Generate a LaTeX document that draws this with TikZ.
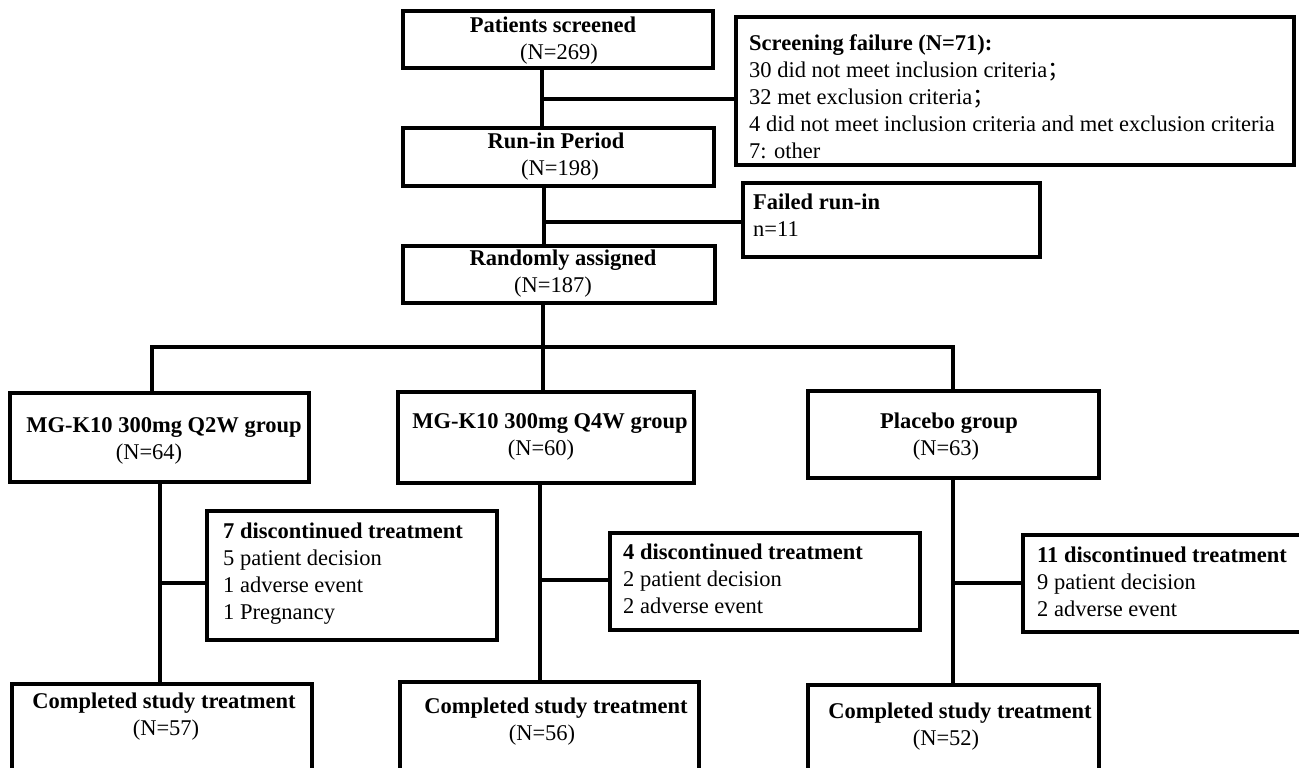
\documentclass[tikz,border=0pt]{standalone}
\usepackage{fontspec}
\setmainfont{Liberation Serif}
\newfontfamily\cjk{Noto Sans CJK SC}
\tikzset{
  box/.style={draw, line width=3.5pt, inner sep=0pt, outer sep=0pt},
  txt/.style={inner sep=0pt, align=center, font=\fontsize{22.5}{27}\selectfont},
  ltxt/.style={inner sep=0pt, align=left, anchor=west, font=\fontsize{22.5}{27}\selectfont},
  lnk/.style={line width=3.5pt}
}
\begin{document}
\begin{tikzpicture}[x=1pt,y=-1pt]
\useasboundingbox (0,0) rectangle (1299,768);
\clip (0,0) rectangle (1299,768);
\fill[white] (0,0) rectangle (1299,768);

% boxes
\node[box, minimum width=310pt, minimum height=57pt] (ps) at (558,39.5) {};
\node[box, minimum width=558pt, minimum height=148pt] (sf) at (1015,91) {};
\node[box, minimum width=311pt, minimum height=58pt] (ri) at (558.5,157) {};
\node[box, minimum width=297pt, minimum height=74pt] (fr) at (891.5,220) {};
\node[box, minimum width=312pt, minimum height=57pt] (ra) at (559,274.5) {};
\node[box, minimum width=299pt, minimum height=89pt] (q2w) at (159.5,437.5) {};
\node[box, minimum width=296pt, minimum height=91pt] (q4w) at (546,437.5) {};
\node[box, minimum width=291pt, minimum height=87pt] (pl) at (953.5,434.5) {};
\node[box, minimum width=290pt, minimum height=129pt] (d1) at (352,575.5) {};
\node[box, minimum width=310pt, minimum height=97pt] (d2) at (765,581.5) {};
\node[box, minimum width=307pt, minimum height=97pt] (d3) at (1176.5,583.5) {};
\node[box, minimum width=300pt, minimum height=116pt] (c1) at (162,742) {};
\node[box, minimum width=299pt, minimum height=118pt] (c2) at (549.5,741) {};
\node[box, minimum width=291pt, minimum height=115pt] (c3) at (953.5,742.5) {};

% texts
\node[txt] (pst) at (553,41) {\textbf{Patients screened}\\\kern12pt(N=269)};
\node[ltxt] (sft) at (749,97) {\textbf{Screening failure (N=71):}\\30 did not meet inclusion criteria{\cjk ；}\\32 met exclusion criteria{\cjk ；}\\4 did not meet inclusion criteria and met exclusion criteria\\7: other};
\node[txt] (rit) at (556,156.5) {\textbf{Run-in Period}\\\kern8pt(N=198)};
\node[ltxt] (frt) at (753,215.5) {\textbf{Failed run-in}\\n=11};
\node[txt] (rat) at (563,273.5) {\textbf{Randomly assigned}\\(N=187)\kern20pt};
\node[txt] (q2wt) at (164,440.5) {\textbf{MG-K10 300mg Q2W group}\\(N=64)\kern30pt};
\node[txt] (q4wt) at (550,436.5) {\textbf{MG-K10 300mg Q4W group}\\(N=60)\kern18pt};
\node[txt] (plt) at (949,436.5) {\textbf{Placebo group}\\(N=63)\kern6pt};
\node[ltxt] (d1t) at (223,573.5) {\textbf{7 discontinued treatment}\\5 patient decision\\1 adverse event\\1 Pregnancy};
\node[ltxt] (d2t) at (623,578.5) {\textbf{4 discontinued treatment}\\2 patient decision\\2 adverse event};
\node[ltxt] (d3t) at (1037,581.5) {\textbf{11 discontinued treatment}\\9 patient decision\\2 adverse event};
\node[txt] (c1t) at (164,716.5) {\textbf{Completed study treatment}\\\kern4pt(N=57)};
\node[txt] (c2t) at (556,721.5) {\textbf{Completed study treatment}\\(N=56)\kern28pt};
\node[txt] (c3t) at (960,726.5) {\textbf{Completed study treatment}\\(N=52)\kern28pt};

% connectors
\coordinate (j1) at (542,99);
\draw[lnk] (j1 |- ps.south) -- (j1 |- ri.north);
\draw[lnk] (j1) -- (j1 -| sf.west);
\coordinate (j2) at (544,222);
\draw[lnk] (j2 |- ri.south) -- (j2 |- ra.north);
\draw[lnk] (j2) -- (j2 -| fr.west);
\coordinate (j3) at (543,347);
\coordinate (bL) at (152,347);
\coordinate (bR) at (953,347);
\draw[lnk] (j3 |- ra.south) -- (j3 |- q4w.north);
\draw[lnk] (bL |- q2w.north) -- (bL) -- (bR) -- (bR |- pl.north);
\coordinate (j4) at (160,583);
\draw[lnk] (j4 |- q2w.south) -- (j4 |- c1.north);
\draw[lnk] (j4) -- (j4 -| d1.west);
\coordinate (j5) at (540,580);
\draw[lnk] (j5 |- q4w.south) -- (j5 |- c2.north);
\draw[lnk] (j5) -- (j5 -| d2.west);
\coordinate (j6) at (953,583);
\draw[lnk] (j6 |- pl.south) -- (j6 |- c3.north);
\draw[lnk] (j6) -- (j6 -| d3.west);
\end{tikzpicture}
\end{document}
